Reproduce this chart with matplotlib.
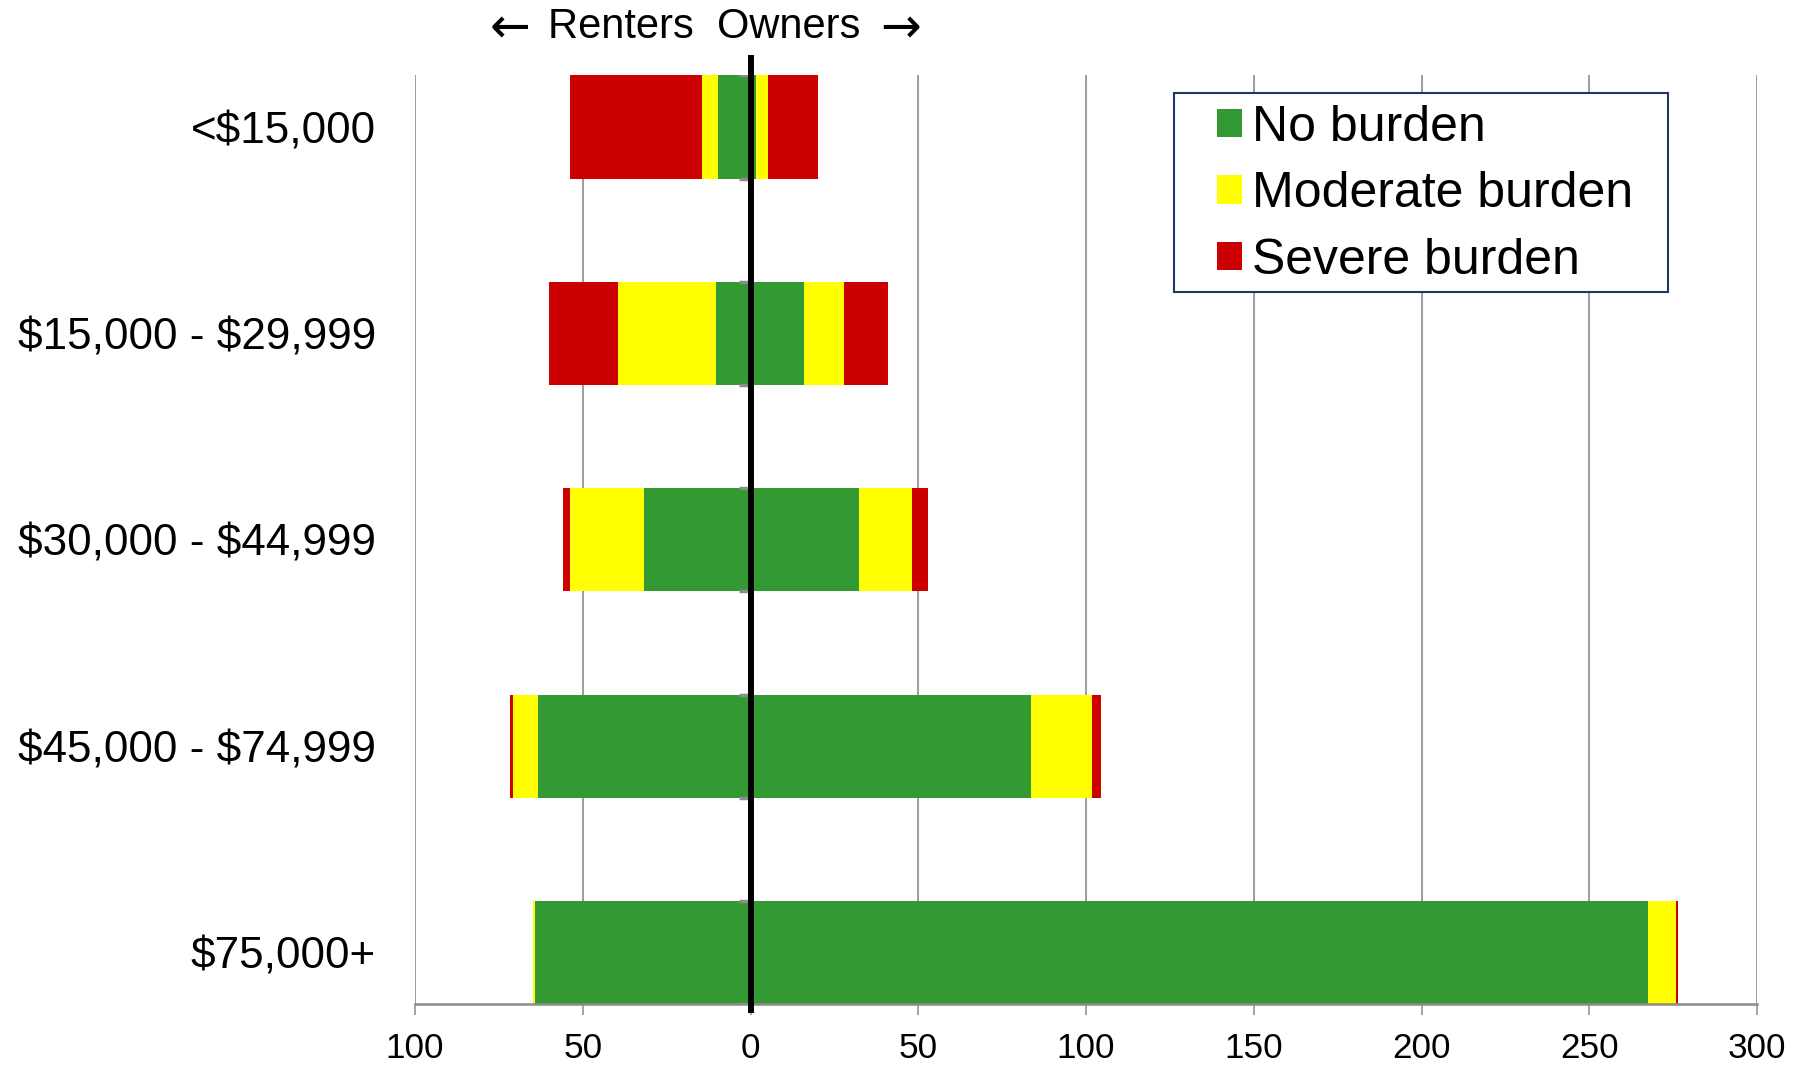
import matplotlib
matplotlib.use("Agg")
import matplotlib.pyplot as plt
from matplotlib.patches import Patch, Rectangle
from matplotlib.ticker import FuncFormatter
import numpy as np

plt.rcParams['font.family'] = ['Liberation Sans', 'DejaVu Sans']

# ---- data ----
categories = ["<$15,000", "$15,000 - $29,999", "$30,000 - $44,999",
              "$45,000 - $74,999", "$75,000+"]
series_names = ["No burden", "Moderate burden", "Severe burden"]
colors = ["#339933", "#FFFF00", "#CC0000"]

renters_none = [9.6, 10.3, 31.7, 63.3, 64.1]
renters_moderate = [4.8, 29.2, 22.1, 7.6, 0.7]
renters_severe = [39.4, 20.7, 2.0, 0.7, 0.0]

owners_none = [1.5, 16.0, 32.3, 83.6, 267.4]
owners_moderate = [3.6, 11.9, 15.8, 18.3, 8.6]
owners_severe = [14.9, 13.1, 4.8, 2.7, 0.5]

xticks = [-100, -50, 0, 50, 100, 150, 200, 250, 300]

# ---- figure ----
fig = plt.figure(figsize=(17.99, 10.67), dpi=100)
ax = fig.add_axes([415/1799, 1-1004/1067, (1757-415)/1799, (1004-75.5)/1067])

y = np.arange(len(categories))
h = 0.5

renters = [renters_none, renters_moderate, renters_severe]
owners = [owners_none, owners_moderate, owners_severe]

left = np.zeros(len(categories))
for vals, c in zip(renters, colors):
    v = -np.array(vals)
    ax.barh(y, v, left=left, height=h, color=c, edgecolor='none', zorder=2)
    left = left + v
left = np.zeros(len(categories))
for vals, c in zip(owners, colors):
    v = np.array(vals)
    ax.barh(y, v, left=left, height=h, color=c, edgecolor='none', zorder=2)
    left = left + v

# small grey stubs at zero at bar edges
ax.hlines(np.concatenate([y - h/2, y + h/2]), -3.5, 0, color='#8c8c8c', lw=2.5, zorder=3)

ax.set_xlim(-100, 300)
ax.set_ylim(len(categories) - 0.75, -0.25)
ax.set_xticks(xticks)
ax.xaxis.set_major_formatter(FuncFormatter(lambda v, p: f"{abs(int(v))}"))
ax.set_yticks(y)
ax.set_yticklabels([c.replace('$', r'\$') for c in categories], fontsize=31.7)
ax.tick_params(axis='y', length=0, pad=28)
ax.tick_params(axis='x', length=8, width=1.1, color='#8c8c8c', direction='out',
               labelsize=25.3, pad=12)

ax.grid(axis='x', color='#8c8c8c', lw=1.2, zorder=0)
ax.grid(axis='y', visible=False)
ax.set_axisbelow(True)
for s in ['top', 'right', 'left']:
    ax.spines[s].set_visible(False)
ax.spines['bottom'].set_color('#8c8c8c')
ax.spines['bottom'].set_linewidth(1.8)

# black zero line
ax.axvline(0, ymin=-0.0065, ymax=1.019, color='black', lw=4.3, clip_on=False, zorder=5)

# top annotation
ty = 1 - 27.5/1067
fig.text(510.5/1799, ty, "\u2190", fontsize=35, ha='center', va='center',
         family=['DejaVu Sans'])
fig.text(703.8/1799, ty, "Renters  Owners", fontsize=30, ha='center', va='center')
fig.text(900.5/1799, ty, "\u2192", fontsize=35, ha='center', va='center',
         family=['DejaVu Sans'])

# legend frame
frame = Rectangle((1174/1799, 1-292/1067), 494/1799, 199/1067,
                  transform=fig.transFigure, facecolor='white',
                  edgecolor='#1F3864', lw=1.5, zorder=3)
fig.add_artist(frame)
handles = [Patch(facecolor=c, edgecolor='none', label=n) for c, n in zip(colors, series_names)]
leg = fig.legend(handles=handles, loc='center left',
                 bbox_to_anchor=(1217/1799, 1-194/1067), bbox_transform=fig.transFigure,
                 frameon=False, fontsize=36, borderpad=0, borderaxespad=0,
                 handlelength=0.5, handleheight=0.5, handletextpad=0.2,
                 labelspacing=0.41)
leg.set_zorder(4)

fig.savefig("out.png", dpi=100)
